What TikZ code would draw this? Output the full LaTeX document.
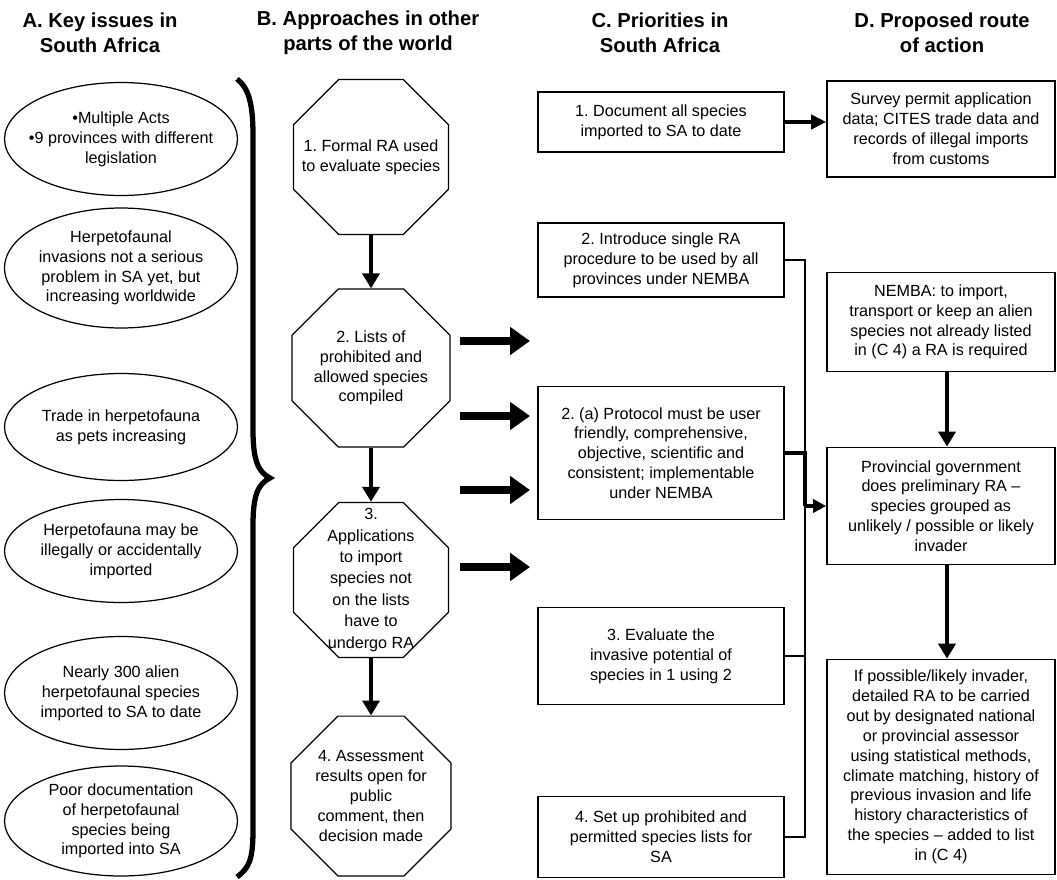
\documentclass[tikz,border=0pt]{standalone}
\usepackage{fontspec}
\setmainfont{Liberation Sans}
\usetikzlibrary{arrows.meta,shapes.geometric}
\newcommand\bodyfont{\fontsize{9.2}{11.3}\selectfont}
\newcommand\headfont{\fontsize{11.5}{14.4}\selectfont\bfseries}
\tikzset{
  txt/.style={align=center, font=\bodyfont, inner sep=0pt},
  head/.style={align=center, font=\headfont},
  issue/.style={draw, ellipse, line width=0.7pt, minimum width=4.66cm, inner sep=0pt},
  approach/.style={draw, regular polygon, regular polygon sides=8, line width=0.7pt, minimum size=3.36cm, inner sep=0pt},
  prio/.style={draw, rectangle, line width=1pt, minimum width=4.92cm, align=center, font=\bodyfont, inner sep=0pt},
  route/.style={draw, rectangle, line width=1pt, minimum width=4.56cm, align=center, font=\bodyfont, inner sep=0pt},
  downarr/.style={line width=2.8pt, -{Triangle[width=9.6pt,length=8.5pt]}},
  bigarr/.style={line width=4.5pt, -{Triangle[width=15.3pt,length=11.3pt]}},
  link/.style={line width=1.5pt},
}
\frenchspacing
\begin{document}
\begin{tikzpicture}[x=0.02cm, y=-0.02cm]
			%%%%% START %%%%%
			\useasboundingbox (0,0) rectangle (1057,879);
			
			\node[head] (ha) at (100,33) {A. Key issues in\\South Africa};
			\node[head] (hb) at (368,33) {B. Approaches in other\\parts of the world};
			\node[head] (hc) at (660,33) {C. Priorities in\\South Africa};
			\node[head] (hd) at (942,33) {D. Proposed route\\of action};
			
			% key issues
			\node[issue, minimum height=2.26cm, label={[txt]center:\textbullet Multiple Acts\\\textbullet 9 provinces with different\\legislation}] (a1) at (121,139) {};
			\node[issue, minimum height=2.4cm, label={[txt]center:Herpetofaunal\\invasions not a serious\\problem in SA yet, but\\increasing worldwide}] (a2) at (121,268) {};
			\node[issue, minimum height=2.14cm, label={[txt]center:Trade in herpetofauna\\as pets increasing}] (a3) at (121,427) {};
			\node[issue, minimum height=2.06cm, label={[txt]center:Herpetofauna may be\\illegally or accidentally\\imported}] (a4) at (121,551) {};
			\node[issue, minimum height=2.26cm, label={[txt]center:Nearly 300 alien\\herpetofaunal species\\imported to SA to date}] (a5) at (121,693) {};
			\node[issue, minimum height=2.2cm, label={[txt]center:Poor documentation\\of herpetofaunal\\species being\\imported into SA}] (a6) at (121,821) {};
			
			\draw[line width=3pt] (237,79) .. controls (249,88) and (253,105) .. (253,135) -- (253,430) .. controls (253,460) and (258,472) .. (270,478) .. controls (258,484) and (253,495) .. (253,525) -- (253,830) .. controls (253,860) and (249,868) .. (237,877);
			
			% approaches
			\node[approach, label={[txt]center:1. Formal RA used\\to evaluate species}] (b1) at (371,157) {};
			\node[approach, minimum size=3.42cm, label={[txt]center:2. Lists of\\prohibited and\\allowed species\\compiled}] (b2) at (371,368) {};
			\node[approach, label={[txt, font=\fontsize{9.2}{12.2}\selectfont]center:3.\\Applications\\to import\\species not\\on the lists\\have to\\undergo RA}] (b3) at (371,580) {};
			\node[approach, minimum size=3.46cm, label={[txt]center:4. Assessment\\results open for\\public\\comment, then\\decision made}] (b4) at (371,796) {};
			
			\draw[downarr] (b1.south) -- (b2.north);
			\draw[downarr] (b2.south) -- (b3.north);
			\draw[downarr] (b3.south) -- (b4.north);
			
			\foreach \y [count=\i] in {341,416,490,567} {
				\coordinate (s\i) at (460,\y);
				\coordinate (t\i) at (530,\y);
				\draw[bigarr] (s\i) -- (t\i);
			}
			
			% priorities
			\node[prio, minimum height=1.2cm] (c1) at (661,122) {1. Document all species\\imported to SA to date};
			\node[prio, minimum height=1.48cm] (c2) at (661,260) {2. Introduce single RA\\procedure to be used by all\\provinces under NEMBA};
			\node[prio, minimum height=2.66cm] (c2a) at (661,453) {2. (a) Protocol must be user\\friendly, comprehensive,\\objective, scientific and\\consistent; implementable\\under NEMBA};
			\node[prio, minimum height=1.94cm] (c3) at (661,656) {3. Evaluate the\\invasive potential of\\species in 1 using 2};
			\node[prio, minimum height=1.62cm] (c4) at (661,837) {4. Set up prohibited and\\permitted species lists for\\SA};
			
			% route of action
			\node[route, minimum height=1.92cm] (d1) at (941,129) {Survey permit application\\data; CITES trade data and\\records of illegal imports\\from customs};
			\node[route, minimum height=1.98cm] (d2) at (941,322) {NEMBA: to import,\\transport or keep an alien\\species not already listed\\in (C 4) a RA is required};
			\node[route, minimum height=2.34cm] (d3) at (941,506) {Provincial government\\does preliminary RA --\\species grouped as\\unlikely / possible or likely\\invader};
			\node[route, minimum height=4.3cm] (d4) at (941,767) {If possible/likely invader,\\detailed RA to be carried\\out by designated national\\or provincial assessor\\using statistical methods,\\climate matching, history of\\previous invasion and life\\history characteristics of\\the species -- added to list\\in (C 4)};
			
			\draw[line width=2.3pt, -{Triangle[width=8pt,length=8.5pt]}] (c1.east) -- (c1.east -| d1.west);
			
			\coordinate (bus) at (805,0);
			\draw[link] (c2.east) -- (c2.east -| bus) -- (c4.east -| bus) -- (c4.east);
			\draw[link] (c3.east) -- (c3.east -| bus);
			\draw[line width=2.8pt] (c2a.east) -- (c2a.east -| bus) -- (d3.west -| bus);
			\draw[line width=2pt, -{Triangle[width=7.4pt,length=7.4pt]}] (d3.west -| bus) -- (d3.west);
			
			\draw[downarr] ([xshift=0.12cm]d2.south) -- ([xshift=0.12cm]d3.north);
			\draw[downarr] ([xshift=0.12cm]d3.south) -- ([xshift=0.12cm]d4.north);
			
			%%%%% END %%%%%
\end{tikzpicture}
\end{document}
